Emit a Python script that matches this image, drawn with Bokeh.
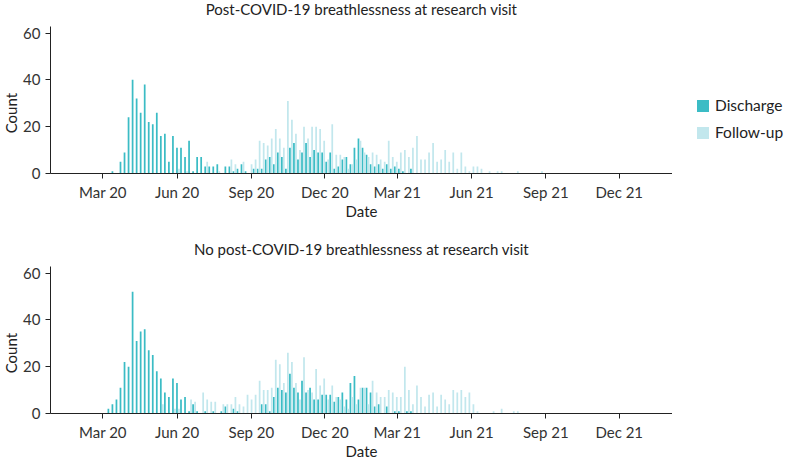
import datetime as dt
import math
from bokeh.plotting import figure
from bokeh.models import Range1d, FixedTicker, Legend, LegendItem
from bokeh.core.properties import value
from bokeh.layouts import column, row
from bokeh.embed import file_html
from bokeh.resources import INLINE

# ---------------- data ----------------
FIRST_BIN_CENTER = dt.datetime(2020, 3, 9)   # centre of the first 5-day bin
BIN_DAYS = 5

TOP_TITLE = "Post-COVID-19 breathlessness at research visit"
BOT_TITLE = "No post-COVID-19 breathlessness at research visit"
SERIES_NAMES = ["Discharge", "Follow-up"]

TOP_DISCHARGE = [0,
    1, 0, 5, 9, 24, 40, 32, 26, 38, 22,
    21, 26, 16, 17, 5, 16, 11, 11, 7, 14,
    1, 7, 7, 3, 3, 3, 4, 0, 3, 3,
    1, 2, 4, 1, 0, 2, 2, 2, 6, 7,
    4, 9, 7, 2, 11, 13, 6, 9, 13, 7,
    10, 9, 9, 5, 9, 2, 3, 6, 7, 4,
    11, 15, 11, 8, 4, 3, 4, 2, 4, 2,
    3, 2, 1, 0, 2]

TOP_FOLLOWUP = [0,
    0, 0, 0, 0, 0, 0, 0, 0, 0, 0,
    0, 0, 0, 0, 0, 0, 2, 0, 1, 0,
    0, 0, 0, 5, 0, 0, 1, 0, 0, 6,
    4, 0, 5, 0, 4, 6, 14, 13, 12, 15,
    19, 15, 11, 31, 23, 17, 10, 20, 15, 20,
    20, 19, 14, 6, 21, 8, 8, 7, 2, 4,
    6, 14, 9, 7, 9, 8, 6, 5, 14, 7,
    5, 9, 10, 7, 11, 16, 6, 6, 9, 13,
    5, 6, 10, 5, 9, 2, 9, 3, 1, 3,
    3, 2, 0, 1, 0, 1, 1, 0, 0, 0,
    1, 0, 0, 0, 0, 0, 1]

BOT_DISCHARGE = [2,
    4, 6, 11, 22, 20, 52, 31, 35, 36, 27,
    25, 18, 15, 9, 7, 15, 13, 6, 7, 1,
    4, 1, 0, 1, 0, 1, 0, 1, 3, 0,
    2, 1, 0, 0, 0, 0, 0, 4, 4, 1,
    7, 11, 10, 9, 17, 11, 9, 14, 9, 11,
    6, 6, 8, 8, 8, 5, 7, 9, 6, 13,
    16, 6, 11, 11, 9, 3, 4, 0, 3, 0,
    1, 1, 0, 1, 1]

BOT_FOLLOWUP = [0,
    0, 0, 0, 0, 0, 0, 0, 0, 0, 0,
    0, 0, 4, 0, 0, 2, 2, 0, 0, 6,
    5, 0, 9, 6, 5, 5, 0, 4, 4, 4,
    7, 4, 3, 8, 6, 8, 14, 10, 10, 11,
    23, 21, 13, 26, 22, 13, 6, 24, 10, 9,
    19, 12, 15, 6, 12, 7, 6, 3, 2, 7,
    4, 11, 11, 4, 14, 9, 7, 7, 10, 9,
    7, 7, 20, 10, 4, 12, 7, 3, 8, 9,
    3, 8, 6, 4, 10, 9, 10, 7, 9, 4,
    1, 0, 0, 0, 1, 0, 2, 0, 0, 1,
    1]

TICK_DATES = [dt.datetime(2020, 3, 1), dt.datetime(2020, 6, 1), dt.datetime(2020, 9, 1),
              dt.datetime(2020, 12, 1), dt.datetime(2021, 3, 1), dt.datetime(2021, 6, 1),
              dt.datetime(2021, 9, 1), dt.datetime(2021, 12, 1)]
TICK_LABELS = ["Mar 20", "Jun 20", "Sep 20", "Dec 20", "Mar 21", "Jun 21", "Sep 21", "Dec 21"]
Y_TICKS = [0, 20, 40, 60]

X_START = dt.datetime(2019, 12, 27)
X_END = dt.datetime(2022, 2, 5)
Y_MAX = 62.8
COUNT_LABEL_Y = 25.8   # where the y-axis title sits (data units)

DIS_COLOR = "#3bbcc5"
FOL_COLOR = "#c2e7ed"
FONT = "Lato"
TEXT_COLOR = "#333333"
TITLE_COLOR = "#222222"
AXIS_COLOR = "#222222"

DAY_MS = 86400000.0
EPOCH = dt.datetime(1970, 1, 1)

# layout (pixels)
LABEL_W = 20
MAIN_W = 652
LEGEND_W = 112
AXIS_PX = 147          # height of the 0..Y_MAX axis
FRAME_PX = 173         # frame height (axis + room above for the panel title)
TITLE_BASELINE_PX = 8.5  # title anchor, pixels below the top of the frame
Y_TOP = Y_MAX * FRAME_PX / AXIS_PX
TITLE_Y = Y_TOP - TITLE_BASELINE_PX * Y_TOP / FRAME_PX


def to_ms(d):
    return (d - EPOCH).total_seconds() * 1000.0


def bin_centers(n):
    return [to_ms(FIRST_BIN_CENTER + dt.timedelta(days=BIN_DAYS * i)) for i in range(n)]


def bare(width, height, b_bottom, y_range):
    f = figure(width=width, height=height, x_range=Range1d(0, 1), y_range=y_range,
               output_backend="svg", toolbar_location=None,
               x_axis_location=None, y_axis_location=None,
               min_border_left=0, min_border_right=0,
               min_border_top=0, min_border_bottom=b_bottom)
    f.grid.visible = False
    f.outline_line_color = None
    f.background_fill_color = None
    f.border_fill_color = None
    return f


def make_panel(title, dis, fol, height):
    b_bottom = height - FRAME_PX
    p = figure(width=MAIN_W, height=height, x_axis_type="datetime",
               x_range=Range1d(to_ms(X_START), to_ms(X_END)),
               y_range=Range1d(0, Y_TOP),
               output_backend="svg", toolbar_location=None,
               min_border_left=48 - LABEL_W, min_border_right=0,
               min_border_top=0, min_border_bottom=b_bottom)
    p.grid.visible = False
    p.outline_line_color = None
    p.background_fill_color = None
    p.border_fill_color = None

    cd = bin_centers(len(dis))
    cf = bin_centers(len(fol))
    off = 1.24 * DAY_MS
    w = 2.15 * DAY_MS
    p.vbar(x=[c - off for c in cd], top=dis, width=w, fill_color=DIS_COLOR, line_color=None)
    p.vbar(x=[c + off for c in cf], top=fol, width=w, fill_color=FOL_COLOR, line_color=None)

    # panel title, centred over the axis span
    mid = to_ms(X_START) + (to_ms(X_END) - to_ms(X_START)) / 2
    p.text(x=[mid], y=[TITLE_Y], text=[title],
           text_align="center", text_baseline="alphabetic",
           text_font=value(FONT), text_font_size=value("15px"), text_color=TITLE_COLOR)

    for ax in (p.xaxis[0], p.yaxis[0]):
        ax.axis_line_color = AXIS_COLOR
        ax.major_tick_line_color = AXIS_COLOR
        ax.major_tick_out = 5
        ax.major_tick_in = 0
        ax.minor_tick_line_color = None
        ax.major_label_text_font = FONT
        ax.major_label_text_font_size = "15px"
        ax.major_label_text_color = TEXT_COLOR

    ticks = [to_ms(d) for d in TICK_DATES]
    p.xaxis.ticker = FixedTicker(ticks=ticks)
    p.xaxis.major_label_overrides = {int(t): lab for t, lab in zip(ticks, TICK_LABELS)}
    p.xaxis.major_label_standoff = 4
    p.xaxis.axis_label = "Date"
    p.xaxis.axis_label_text_font = FONT
    p.xaxis.axis_label_text_font_size = "15px"
    p.xaxis.axis_label_text_font_style = "normal"
    p.xaxis.axis_label_text_color = TITLE_COLOR
    p.xaxis.axis_label_standoff = -2

    p.yaxis.ticker = FixedTicker(ticks=Y_TICKS)
    p.yaxis.bounds = (0, Y_MAX)
    p.yaxis.major_label_standoff = 5

    # y-axis title in a narrow strip to the left, aligned with the panel frame
    lab = bare(LABEL_W, height, b_bottom, Range1d(0, Y_TOP))
    lab.text(x=[0.5], y=[COUNT_LABEL_Y], text=["Count"], angle=math.pi / 2,
             text_align="center", text_baseline="middle",
             text_font=value(FONT), text_font_size=value("15px"), text_color=TITLE_COLOR)
    return lab, p


lab1, p1 = make_panel(TOP_TITLE, TOP_DISCHARGE, TOP_FOLLOWUP, 240)
lab2, p2 = make_panel(BOT_TITLE, BOT_DISCHARGE, BOT_FOLLOWUP, 223)

# legend strip to the right of the top panel (proxy renderers lie outside its ranges)
leg_fig = bare(LEGEND_W, 240, 240 - FRAME_PX, Range1d(0, 1))
rd = leg_fig.vbar(x=[-1], top=[0], width=0.1, fill_color=DIS_COLOR, line_color=None)
rf = leg_fig.vbar(x=[-1], top=[0], width=0.1, fill_color=FOL_COLOR, line_color=None)
leg = Legend(items=[LegendItem(label=SERIES_NAMES[0], renderers=[rd]),
                    LegendItem(label=SERIES_NAMES[1], renderers=[rf])],
             location=(23, 32), orientation="vertical",
             glyph_width=15, glyph_height=15, label_height=15,
             label_standoff=5, spacing=9, padding=0, margin=0,
             border_line_color=None, background_fill_alpha=0,
             label_text_font=FONT, label_text_font_size="15.5px",
             label_text_color=TITLE_COLOR)
leg_fig.add_layout(leg)

layout = column(row(lab1, p1, leg_fig, spacing=0), row(lab2, p2, spacing=0), spacing=0)

with open("out.html", "w") as f:
    f.write(file_html(layout, INLINE))
